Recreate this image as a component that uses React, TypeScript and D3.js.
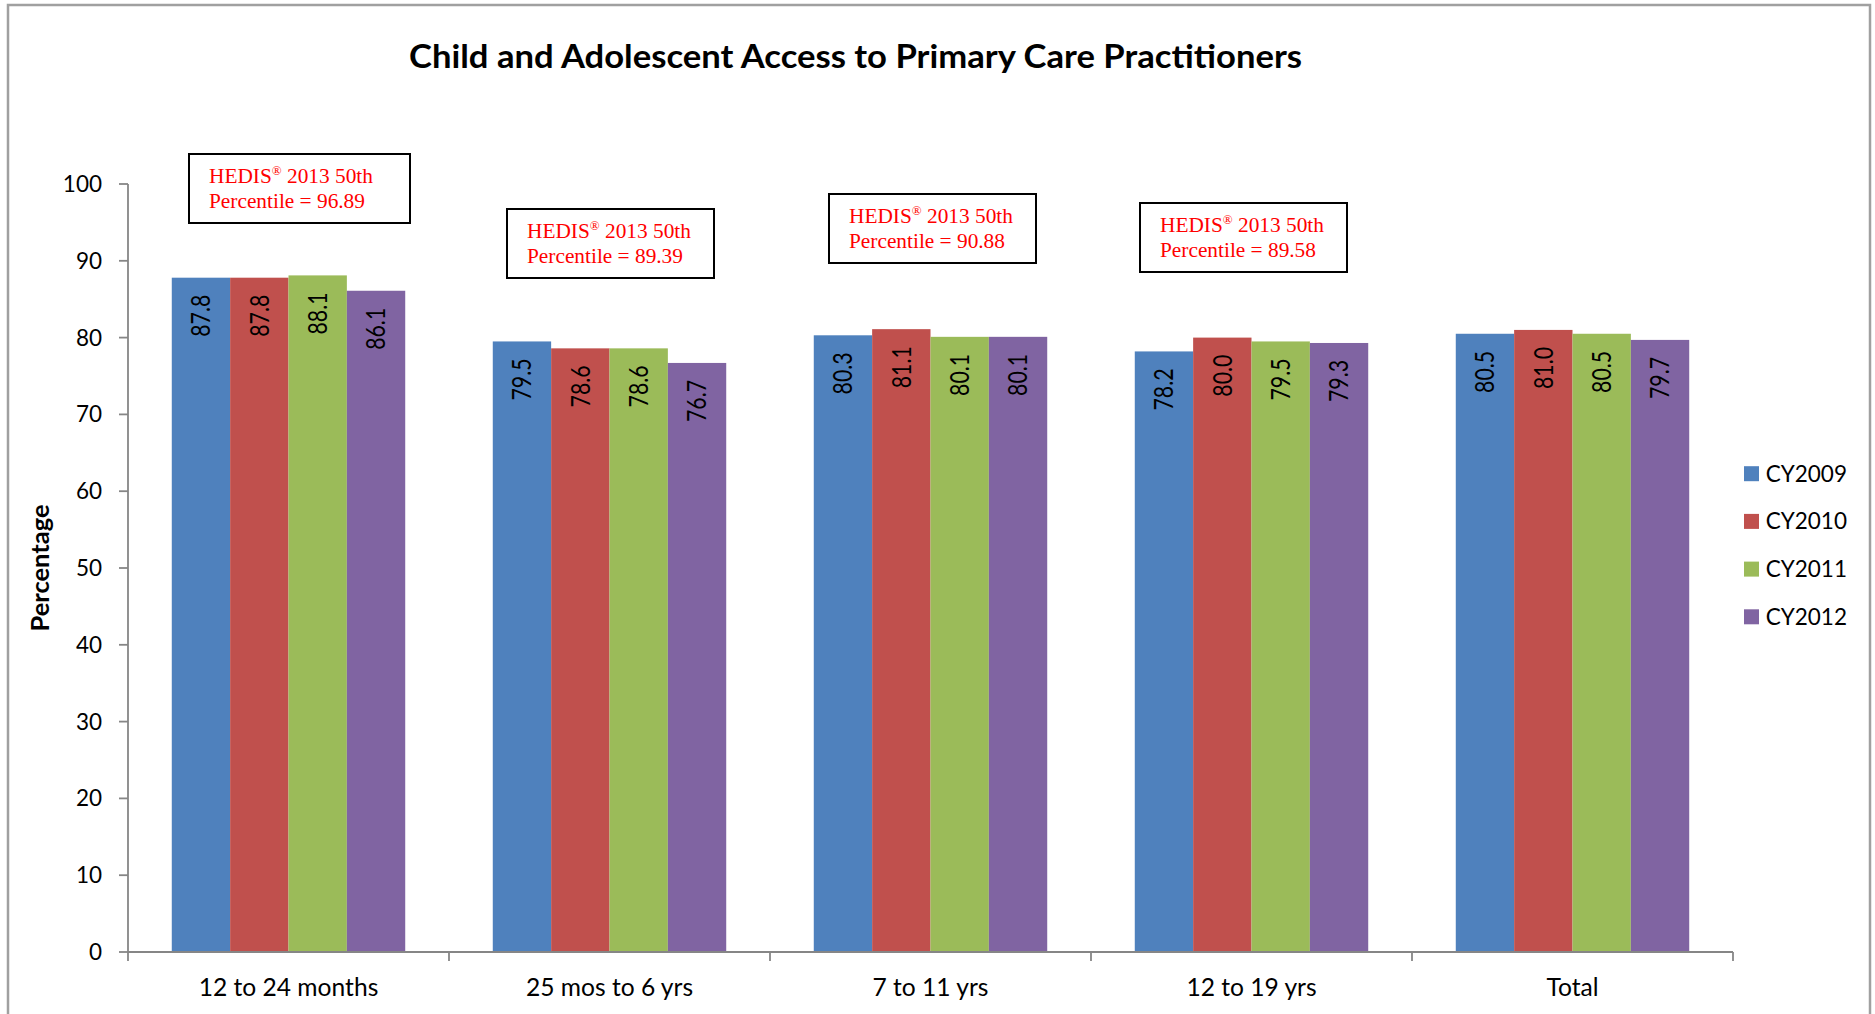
import React, { useEffect } from "react";
import * as d3 from "d3";

const categories = ["12 to 24 months", "25 mos to 6 yrs", "7 to 11 yrs", "12 to 19 yrs", "Total"];
const seriesNames = ["CY2009", "CY2010", "CY2011", "CY2012"];
const cy2009 = [87.8, 79.5, 80.3, 78.2, 80.5];
const cy2010 = [87.8, 78.6, 81.1, 80.0, 81.0];
const cy2011 = [88.1, 78.6, 80.1, 79.5, 80.5];
const cy2012 = [86.1, 76.7, 80.1, 79.3, 79.7];
const seriesValues = [cy2009, cy2010, cy2011, cy2012];
const yTicks = [0, 10, 20, 30, 40, 50, 60, 70, 80, 90, 100];
const hedisValues = ["96.89", "89.39", "90.88", "89.58"];

const colors = ["#4F81BD", "#C0504D", "#9BBB59", "#8064A2"];
// annotation box layout (pixels)
const boxLayout = [
  { x: 189, y: 154, w: 221 },
  { x: 507, y: 209, w: 207 },
  { x: 829, y: 194, w: 207 },
  { x: 1140, y: 203, w: 207 },
];

const W = 1875;
const H = 1014;
const axisColor = "#868686";
const sans = "Lato, 'Open Sans', sans-serif";

export default function App() {
  useEffect(() => {
    document.body.style.margin = "0";
    document.body.style.overflow = "hidden";
  }, []);

  const y = d3.scaleLinear().domain([0, 100]).range([952, 184]);
  const x0 = d3
    .scaleBand<string>()
    .domain(categories)
    .range([128, 1733])
    .paddingInner(1.5 / 5.5)
    .paddingOuter(0.75 / 5.5);
  const x1 = d3.scaleBand<string>().domain(seriesNames).range([0, x0.bandwidth()]).padding(0);
  const step = x0.step();
  const boundaries = d3.range(categories.length + 1).map((i) => 128 + i * step);

  return (
    <svg width={W} height={H} style={{ position: "absolute", left: 0, top: 0, display: "block" }}>
      <rect x={0} y={0} width={W} height={H} fill="#fff" />
      <rect x={8} y={5} width={1862} height={1030} fill="none" stroke="#a0a0a0" strokeWidth={2.5} />
      <text
        x={409}
        y={68}
        fontFamily={sans}
        fontWeight={700}
        fontSize={33}
        textLength={893}
        lengthAdjust="spacingAndGlyphs"
        fill="#000"
      >
        Child and Adolescent Access to Primary Care Practitioners
      </text>

      {/* bars */}
      {categories.map((c, ci) => (
        <g key={c}>
          {seriesNames.map((s, si) => {
            const v = seriesValues[si][ci];
            const bx = (x0(c) as number) + (x1(s) as number);
            const by = y(v);
            return (
              <rect key={s} x={bx} y={by} width={x1.bandwidth()} height={y(0) - by} fill={colors[si]} />
            );
          })}
        </g>
      ))}

      {/* data labels */}
      {categories.map((c, ci) =>
        seriesNames.map((s, si) => {
          const v = seriesValues[si][ci];
          const cx = (x0(c) as number) + (x1(s) as number) + x1.bandwidth() / 2;
          const ty = y(v) + 17;
          return (
            <text
              key={c + s}
              transform={`translate(${cx + 9.4},${ty}) rotate(-90) scale(0.82,1)`}
              textAnchor="end"
              fontFamily={sans}
              fontSize={26}
              fill="#000"
            >
              {v.toFixed(1)}
            </text>
          );
        })
      )}

      {/* y axis */}
      <line x1={128} x2={128} y1={y(100)} y2={y(0)} stroke={axisColor} strokeWidth={1.8} />
      {yTicks.map((t) => (
        <g key={t}>
          <line x1={119} x2={128} y1={y(t)} y2={y(t)} stroke={axisColor} strokeWidth={1.8} />
          <text x={102} y={y(t) + 8} textAnchor="end" fontFamily={sans} fontSize={22.5} fill="#000">
            {t}
          </text>
        </g>
      ))}
      <text
        transform={`translate(49,568) rotate(-90)`}
        textAnchor="middle"
        fontFamily={sans}
        fontWeight={700}
        fontSize={25.5}
        fill="#000"
      >
        Percentage
      </text>

      {/* x axis */}
      <line x1={128} x2={1733} y1={y(0)} y2={y(0)} stroke={axisColor} strokeWidth={1.8} />
      {boundaries.map((b, i) => (
        <line key={i} x1={b} x2={b} y1={y(0)} y2={y(0) + 9} stroke={axisColor} strokeWidth={1.8} />
      ))}
      {categories.map((c) => (
        <text
          key={c}
          x={(x0(c) as number) + x0.bandwidth() / 2}
          y={995.7}
          textAnchor="middle"
          fontFamily={sans}
          fontSize={24.6}
          fill="#000"
        >
          {c}
        </text>
      ))}

      {/* legend */}
      {seriesNames.map((s, i) => {
        const cyy = 473.7 + i * 47.7;
        return (
          <g key={s}>
            <rect x={1744} y={cyy - 7.5} width={15} height={15} fill={colors[i]} />
            <text x={1765.7} y={cyy + 8} fontFamily={sans} fontSize={22.5} fill="#000">
              {s}
            </text>
          </g>
        );
      })}

      {/* HEDIS annotation boxes */}
      {hedisValues.map((hv, i) => {
        const b = boxLayout[i];
        return (
          <g key={i}>
            <rect x={b.x} y={b.y} width={b.w} height={69} fill="#fff" stroke="#000" strokeWidth={2} />
            <text
              x={b.x + 20}
              y={b.y + 29}
              fontFamily="'Liberation Serif', 'Times New Roman', serif"
              fontSize={21.33}
              fill="#FF0000"
            >
              HEDIS
              <tspan dy={-8} fontSize={13}>
                ®
              </tspan>
              <tspan dy={8}> 2013 50th</tspan>
            </text>
            <text
              x={b.x + 20}
              y={b.y + 54}
              fontFamily="'Liberation Serif', 'Times New Roman', serif"
              fontSize={21.33}
              fill="#FF0000"
            >
              {`Percentile = ${hv}`}
            </text>
          </g>
        );
      })}
    </svg>
  );
}
